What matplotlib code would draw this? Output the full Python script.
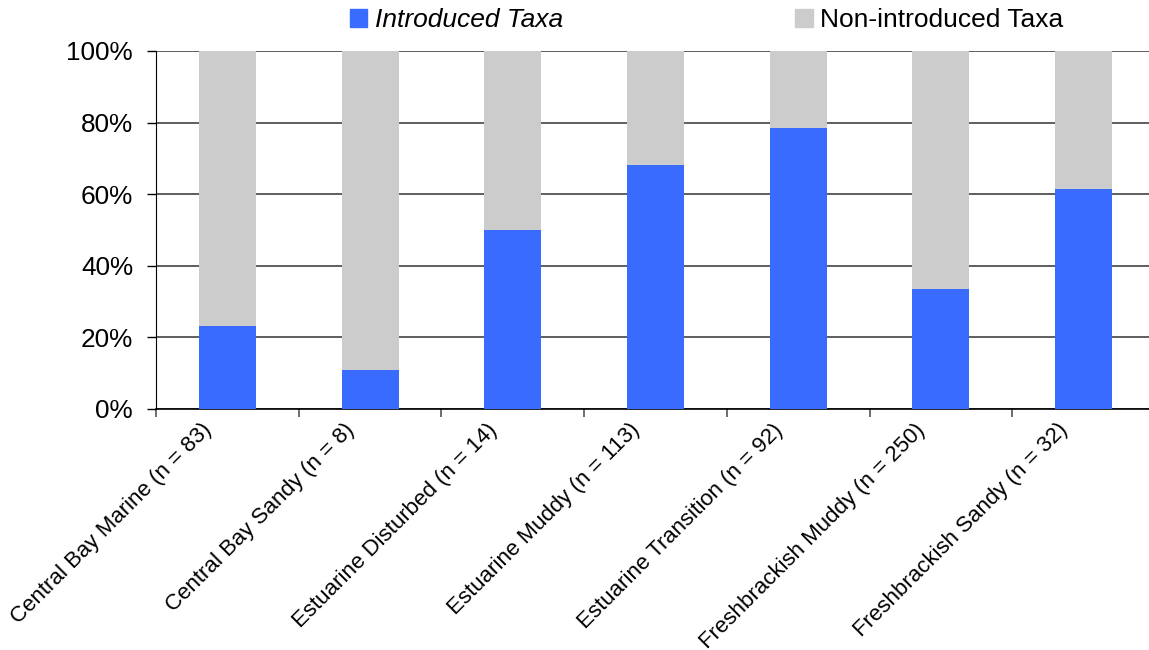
import matplotlib
matplotlib.use("Agg")
import matplotlib.pyplot as plt
from matplotlib.patches import Rectangle
from matplotlib.transforms import ScaledTranslation
import numpy as np

categories = ["Central Bay Marine (n = 83)", "Central Bay Sandy (n = 8)",
              "Estuarine Disturbed (n = 14)", "Estuarine Muddy (n = 113)",
              "Estuarine Transition (n = 92)", "Freshbrackish Muddy (n = 250)",
              "Freshbrackish Sandy (n = 32)"]
introduced = [23.2, 11.0, 50.0, 68.2, 78.5, 33.5, 61.5]
non_introduced = [100 - v for v in introduced]
yticks = [0, 20, 40, 60, 80, 100]
ytick_labels = ["0%", "20%", "40%", "60%", "80%", "100%"]
legend_labels = ["Introduced Taxa", "Non-introduced Taxa"]

BLUE = "#3A6BFF"
GREY = "#CCCCCC"

plt.rcParams['font.family'] = ['Liberation Sans', 'DejaVu Sans']

fig = plt.figure(figsize=(11.49, 6.5), dpi=100)
ax = fig.add_axes([156/1149, 1 - 409/650, 999/1149, 358/650])

x = np.arange(len(categories))
ax.bar(x, introduced, width=0.4, color=BLUE, zorder=3)
ax.bar(x, non_introduced, width=0.4, bottom=introduced, color=GREY, zorder=3)

ax.set_xlim(-0.5, len(categories) - 0.5)
ax.set_ylim(0, 100)
ax.set_yticks(yticks)
ax.set_yticklabels(ytick_labels, fontsize=18.8)
ax.tick_params(axis='y', direction='out', length=6.5, width=1, pad=10, color='black')
ax.yaxis.grid(True, color='#333333', linewidth=1.1, zorder=1)
ax.set_axisbelow(True)

ax.set_xticks(np.arange(len(categories) + 1) - 0.5)
ax.set_xticklabels([])
ax.tick_params(axis='x', direction='out', length=5.5, width=1.2, color='#555555')

for s in ['top', 'right']:
    ax.spines[s].set_visible(False)
ax.spines['left'].set_color('black')
ax.spines['bottom'].set_color('black')
ax.spines['bottom'].set_linewidth(1.2)

off = ScaledTranslation(-26/100, -10.5/100, fig.dpi_scale_trans)
for i, lab in enumerate(categories):
    ax.text(i, 0, lab, transform=ax.get_xaxis_transform() + off,
            rotation=45, ha='right', va='top', rotation_mode='anchor',
            fontsize=16, clip_on=False)

handles = [Rectangle((0, 0), 1, 1, color=BLUE), Rectangle((0, 0), 1, 1, color=GREY)]
leg = fig.legend(handles, legend_labels, loc='upper left',
                 bbox_to_anchor=(350/1149, 1 - 8/650), ncol=2, frameon=False,
                 fontsize=19, handlelength=0.65, handleheight=0.65,
                 handletextpad=0.3, columnspacing=8.8, borderpad=0,
                 borderaxespad=0)
leg.get_texts()[0].set_style('italic')

fig.savefig("out.png", dpi=100)
